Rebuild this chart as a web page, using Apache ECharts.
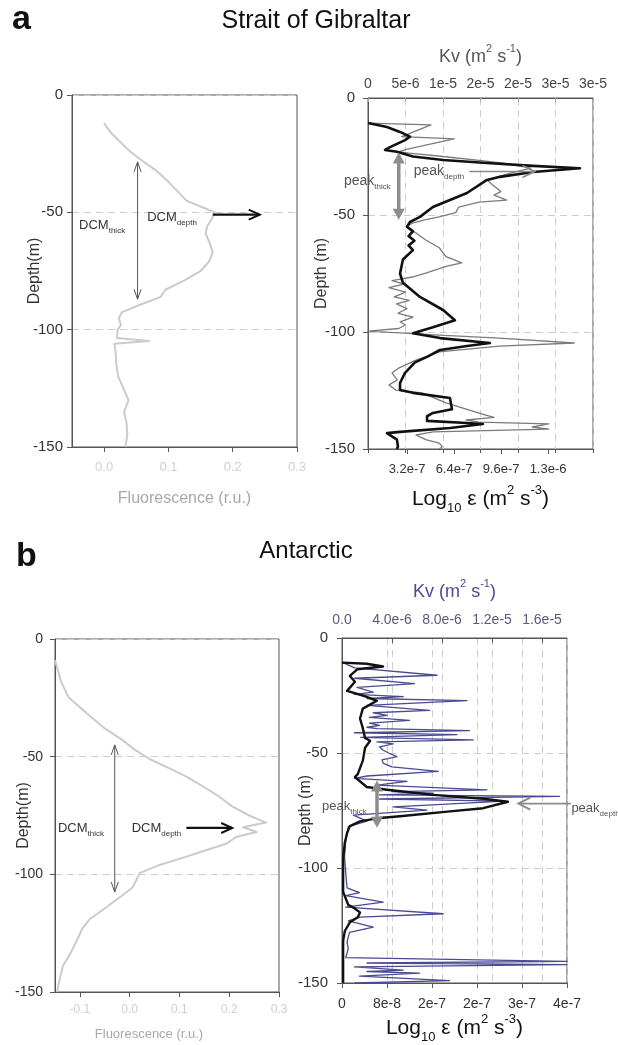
<!DOCTYPE html>
<html>
<head>
<meta charset="utf-8">
<script src="https://cdn.jsdelivr.net/npm/echarts@6/dist/echarts.min.js"></script>
<style>
  html, body { margin: 0; padding: 0; background: #fff; }
  #chart { width: 618px; height: 1045px; }
</style>
</head>
<body>
<div id="chart"></div>
<script>
// ---------------- profiles: [value, depth (m, positive down)] ----------------

// Strait of Gibraltar - chlorophyll fluorescence (r.u.)
const fluorGibraltar = [
  [0.000,12],[0.010,16],[0.025,20],[0.040,24],[0.059,28],[0.080,32],[0.100,37],[0.128,45],
  [0.150,47.5],[0.172,50],[0.168,52.5],[0.160,56],[0.158,59],[0.164,63],[0.169,67],[0.163,71],
  [0.150,75],[0.125,79],[0.095,83],[0.088,86],[0.055,89.5],[0.028,92.5],[0.023,95],[0.026,98],
  [0.021,100],[0.020,103.5],[0.070,104.8],[0.016,106],[0.018,110],[0.019,115],[0.022,120],
  [0.030,125],[0.038,130],[0.031,135],[0.035,140],[0.036,145],[0.033,150]
];

// Strait of Gibraltar - turbulent dissipation rate epsilon (m2 s-3)
const epsGibraltar = [
  [5.4e-8,10.7],[1.83e-7,12.4],[2.72e-7,14.5],[3.4e-7,16.5],[3.06e-7,18],[2.04e-7,21],[1.7e-7,22.2],
  [2.51e-7,23],[3.6e-7,25],[5.65e-7,26.5],[8.64e-7,27.8],[1.177e-6,29],[1.497e-6,30],[1.177e-6,31.6],
  [9.53e-7,33.7],[8.64e-7,35],[7.28e-7,40.6],[6.12e-7,43.6],[4.96e-7,46.6],[4.08e-7,50.8],[3.4e-7,53],
  [3.19e-7,55],[3.6e-7,57],[3.3e-7,59],[3.7e-7,61],[3.3e-7,63],[3.6e-7,65],[2.92e-7,69],[2.72e-7,75],
  [2.92e-7,79],[4.08e-7,85],[5.65e-7,90.6],[6.46e-7,95],[4.96e-7,98],[3.6e-7,100.5],[5.44e-7,102.6],
  [8.84e-7,104.7],[7.28e-7,106],[5.44e-7,107.7],[4.56e-7,110.6],[3.74e-7,113],[3.06e-7,117.5],
  [2.72e-7,121.8],[2.72e-7,124.8],[3.6e-7,126],[6.12e-7,128.2],[6.26e-7,133],[4.96e-7,134.6],
  [4.56e-7,136],[4.56e-7,138],[7.28e-7,138.9],[8.37e-7,139.3],[6.12e-7,141],[2.72e-7,142.7],
  [1.83e-7,143.2],[1.7e-7,143.5],[2.51e-7,146],[2.58e-7,149],[2.5e-7,150]
];

// Strait of Gibraltar - vertical diffusivity Kv (m2 s-1)
const kvGibraltar = [
  [0,10.7],[8.4e-6,11.5],[4.5e-6,16.5],[1.15e-5,17.5],[5.1e-6,22],[4.1e-6,23],[5.5e-6,23.6],[1.0e-5,25],
  [1.57e-5,27],[1.81e-5,27.8],[2.17e-5,30],[1.91e-5,32],[1.59e-5,35],[1.64e-5,36.5],[1.77e-5,40],
  [1.68e-5,41.5],[1.85e-5,43.6],[1.48e-5,44.5],[1.21e-5,46.6],[1.17e-5,49],[9.5e-6,50.8],[7.7e-6,52],
  [5.9e-6,53.5],[5.1e-6,55],[6.4e-6,57.7],[7.7e-6,60.7],[9.5e-6,64],[1.04e-5,67.8],[1.25e-5,70.5],
  [1.04e-5,72],[7.7e-6,74.8],[5.9e-6,76.5],[3.2e-6,78],[4.8e-6,79.5],[2.8e-6,81],[5.0e-6,83],[3.5e-6,85],
  [5.5e-6,86.5],[3.8e-6,88],[5.2e-6,90],[4.0e-6,92],[6.0e-6,93.6],[4.3e-6,95.7],[5.0e-6,97],[4.1e-6,98.5],
  [0,99.6],[9.5e-6,101.3],[1.75e-5,102.6],[2.75e-5,104.7],[1.75e-5,106],[9.5e-6,108.5],[6.4e-6,112],
  [4.1e-6,115.4],[3.2e-6,117.5],[3.9e-6,120.5],[2.8e-6,122.6],[3.7e-6,124.8],[7.2e-6,126],[1.04e-5,130.3],
  [1.31e-5,133],[1.57e-5,135.5],[1.68e-5,136.5],[1.31e-5,137.6],[1.48e-5,138.5],[2.41e-5,139.3],
  [2.19e-5,140.6],[2.41e-5,141.5],[8.7e-6,142.7],[6.4e-6,144],[7.7e-6,146],[9.5e-6,147.5],[9.9e-6,149],
  [9.5e-6,150]
];

// Antarctic - chlorophyll fluorescence (r.u.)
const fluorAntarctic = [
  [-0.150,9],[-0.138,18],[-0.122,25],[-0.100,29],[-0.084,32],[-0.050,38],[-0.014,43],[0.010,47],
  [0.040,51],[0.080,55],[0.114,58.5],[0.150,63],[0.180,67],[0.205,71],[0.240,75],[0.274,78],[0.228,80],
  [0.255,82],[0.215,84],[0.194,87],[0.150,90],[0.106,93],[0.060,96],[0.020,99.5],[0.012,103],
  [0.006,105.5],[-0.015,109],[-0.034,112],[-0.060,116],[-0.080,119],[-0.095,123],[-0.106,128],
  [-0.120,134],[-0.134,139],[-0.140,144],[-0.144,148],[-0.146,150]
];

// Antarctic - turbulent dissipation rate epsilon (m2 s-3)
const epsAntarctic = [
  [0,10.7],[4.4e-8,11.2],[7.3e-8,12.4],[2.7e-8,13.6],[1.4e-8,16.5],[2.3e-8,19],[9e-9,23],[2.7e-8,24.3],
  [4.4e-8,25.6],[6.2e-8,27.3],[3.7e-8,30.7],[3.2e-8,35],[3.7e-8,39.2],[4.1e-8,43.5],[5e-8,44.7],
  [4.1e-8,47.7],[3.7e-8,53.3],[2.8e-8,59.2],[2.3e-8,60.5],[4.4e-8,64.8],[8e-8,66],[1.62e-7,68.2],
  [2.51e-7,69.9],[2.95e-7,71.2],[2.51e-7,74],[1.92e-7,75.4],[1.03e-7,77.5],[6.2e-8,78.4],[3.2e-8,79.7],
  [1.4e-8,81.8],[9e-9,84.8],[5e-9,89],[2e-9,95.9],[2e-9,110.4],[1.1e-8,116],[2e-8,117.2],[3.2e-8,119.3],
  [2.8e-8,121.4],[1.4e-8,123.6],[5e-9,127.4],[2e-9,131.7],[2e-9,150]
];

// Antarctic - vertical diffusivity Kv (m2 s-1)
const kvAntarctic = [
  [0,10.5],[1.0e-6,13],[7.6e-6,16.2],[1.0e-6,17.5],[5.8e-6,19.8],[1.2e-6,21.5],[2.5e-6,23.5],[1.0e-6,24.5],
  [4.9e-6,25.5],[2.0e-6,26.3],[1.0e-5,27.2],[2.0e-6,29.3],[7.0e-6,31.5],[2.5e-6,32.5],[3.6e-6,33.6],
  [2.2e-6,34.5],[5.4e-6,35.8],[2.2e-6,37],[3.0e-6,38],[2.0e-6,38.8],[2.8e-6,39.4],[1.02e-5,40.3],
  [1.0e-6,41.2],[9.2e-6,42],[1.5e-6,43.2],[1.05e-5,44.3],[2.8e-6,45.2],[4.1e-6,46],[3.0e-6,47.3],
  [3.3e-6,48.8],[3.8e-6,50.2],[4.4e-6,51.6],[3.2e-6,53],[3.3e-6,54.5],[4.0e-6,56],[7.7e-6,58],[2.0e-6,60],
  [1.0e-6,61],[5.2e-6,62.3],[2.8e-6,64],[1.16e-5,66],[4.0e-6,66.8],[7.3e-6,67.5],[3.0e-6,68.2],
  [1.74e-5,68.9],[3.0e-6,70],[1.3e-5,70.9],[4.1e-6,73.4],[6.8e-6,74.8],[9e-7,77],[2.0e-6,79.6],[5e-7,82],
  [3e-7,88],[2e-7,95],[3e-7,102],[4e-7,108.6],[1.4e-6,110.7],[3e-7,112],[3.3e-6,114.8],[3e-7,117],
  [8.1e-6,119.9],[1.44e-6,121.4],[5e-7,123],[2.5e-6,125.7],[6e-7,128],[4e-7,132.2],[5e-7,135],[3e-7,139],
  [1.8e-5,140.6],[2e-6,141.3],[1.8e-5,142],[1.0e-6,143],[4.9e-6,144.4],[2e-6,145],[6.2e-6,145.7],
  [1.4e-6,147],[8.6e-6,149],[1e-6,150]
];

// ---------------- tick labels ----------------
const fluorTicksGibraltar = [0, 0.1, 0.2, 0.3];
const fluorTicksAntarctic = [-0.1, 0, 0.1, 0.2, 0.3];
const kvLabelsGibraltar = ['0', '5e-6', '1e-5', '2e-5', '2e-5', '3e-5', '3e-5'];
const epsTicksGibraltar = [3.2e-7, 6.4e-7, 9.6e-7, 1.28e-6];
const epsLabelsGibraltar = ['3.2e-7', '6.4e-7', '9.6e-7', '1.3e-6'];
const epsLabelsAntarctic = ['0', '8e-8', '2e-7', '2e-7', '3e-7', '4e-7'];

// ---------------- annotations (data units; depth positive down) ----------------
// DCM: [x, depthTop, depthBottom] for the thickness arrow, [x1, x2, depth] for the depth arrow
const dcmGibraltar = { thick: [0.052, 28.5, 87], depth: [0.169, 0.242, 51], thickLabel: [-0.039, 55.4], depthLabel: [0.067, 52.3] };
const dcmAntarctic = { thick: [-0.03, 45, 107.5], depth: [0.114, 0.206, 80.3], thickLabel: [-0.144, 80.3], depthLabel: [0.004, 80.3] };
// Kv peak: coordinates on the Kv axis
const peakGibraltar = { thick: [4.1e-6, 23.3, 52], depth: [1.35e-5, 2.22e-5, 31.4], thickLabel: [-3.2e-6, 35.5], depthLabel: [6.1e-6, 31.2] };
const peakAntarctic = { thick: [2.8e-6, 62, 82.5], depth: [1.83e-5, 1.41e-5, 72], thickLabel: [-1.6e-6, 73.3], depthLabel: [1.835e-5, 74.2] };

// ---------------- styling helpers ----------------
const FONT = '"Liberation Sans", Arial, Helvetica, sans-serif';
const AX = '#555';
const GRIDLINE = { color: '#cdcdcd', type: [7, 5], width: 1 };
const toXY = arr => arr.map(p => [p[0], -p[1]]);

const grids = [
  { left: 72, top: 95, width: 225, height: 352 },   // a: fluorescence
  { left: 368, top: 98, width: 225, height: 351 },  // a: Kv / epsilon
  { left: 55, top: 639, width: 224, height: 353 },  // b: fluorescence
  { left: 342, top: 638, width: 225, height: 352 }  // b: Kv / epsilon
].map(g => Object.assign(g, { show: true, borderColor: AX, borderWidth: 1, backgroundColor: 'transparent' }));

function depthAxis(gridIndex, name, nameGap, labelMargin, fontSize) {
  return {
    type: 'value', gridIndex, min: -150, max: 0, interval: 50,
    name, nameLocation: 'middle', nameGap, nameRotate: 90, nameMoveOverlap: false,
    nameTextStyle: { fontFamily: FONT, fontSize: 16, color: '#333' },
    axisLine: { show: true, onZero: false, lineStyle: { color: AX } },
    axisTick: { show: true, inside: false, length: 5, lineStyle: { color: AX } },
    axisLabel: { fontFamily: FONT, fontSize, color: '#333', margin: labelMargin },
    splitLine: { show: true, lineStyle: GRIDLINE }
  };
}

const richSup = (size, color) => ({
  a: { fontFamily: FONT, fontSize: size, color, lineHeight: size + 10 },
  sup: { fontFamily: FONT, fontSize: Math.round(size * 0.6), color, lineHeight: size, verticalAlign: 'top' },
  sub: { fontFamily: FONT, fontSize: Math.round(size * 0.6), color, lineHeight: Math.round(size * 0.55), verticalAlign: 'bottom' }
});

const KV_BLUE = '#4a4a92';

const xAxes = [
  // 0: fluorescence, Strait of Gibraltar
  {
    type: 'value', gridIndex: 0, position: 'bottom', min: -0.05, max: 0.3,
    name: 'Fluorescence (r.u.)', nameLocation: 'middle', nameGap: 44, nameMoveOverlap: false,
    nameTextStyle: { fontFamily: FONT, fontSize: 16, color: '#a8a8a8' },
    axisLine: { show: true, onZero: false, lineStyle: { color: AX } },
    axisTick: { show: true, length: 5, customValues: fluorTicksGibraltar, lineStyle: { color: AX } },
    axisLabel: { customValues: fluorTicksGibraltar, formatter: v => v.toFixed(1), fontFamily: FONT, fontSize: 13, color: '#cfcfcf', margin: 14 },
    splitLine: { show: false }
  },
  // 1: Kv, Strait of Gibraltar (top)
  {
    type: 'value', gridIndex: 1, position: 'top', min: 0, max: 3e-5, interval: 5e-6,
    name: '{a|Kv (m}{sup|2}{a| s}{sup|-1}{a|)}', nameLocation: 'middle', nameGap: 27, nameMoveOverlap: false,
    nameTextStyle: { rich: richSup(18, '#555') },
    axisLine: { show: true, onZero: false, lineStyle: { color: AX } },
    axisTick: { show: true, inside: true, length: 4, lineStyle: { color: '#aaa' } },
    axisLabel: { formatter: v => kvLabelsGibraltar[Math.round(v / 5e-6)] || '', fontFamily: FONT, fontSize: 14, color: '#444', margin: 7 },
    splitLine: { show: true, lineStyle: GRIDLINE }
  },
  // 2: epsilon, Strait of Gibraltar (bottom)
  {
    type: 'value', gridIndex: 1, position: 'bottom', min: 5.4e-8, max: 1.586e-6,
    name: '{a|Log}{sub|10}{a| \u03b5 (m}{sup|2}{a| s}{sup|-3}{a|)}', nameLocation: 'middle', nameGap: 35, nameMoveOverlap: false,
    nameTextStyle: { rich: richSup(21, '#111') },
    axisLine: { show: true, onZero: false, lineStyle: { color: AX } },
    axisTick: { show: true, length: 5, customValues: epsTicksGibraltar, lineStyle: { color: AX } },
    axisLabel: { customValues: epsTicksGibraltar, formatter: v => epsLabelsGibraltar[Math.round(v / 3.2e-7) - 1] || '', fontFamily: FONT, fontSize: 13, color: '#333', margin: 14 },
    splitLine: { show: false }
  },
  // 3: Kv tick marks repeated along the bottom edge
  {
    type: 'value', gridIndex: 1, position: 'bottom', min: 0, max: 3e-5, interval: 5e-6,
    axisLine: { show: false, onZero: false },
    axisTick: { show: true, length: 4, lineStyle: { color: AX } },
    axisLabel: { show: false },
    splitLine: { show: false }
  },
  // 4: fluorescence, Antarctic
  {
    type: 'value', gridIndex: 2, position: 'bottom', min: -0.15, max: 0.3,
    name: 'Fluorescence (r.u.)', nameLocation: 'middle', nameGap: 36, nameMoveOverlap: false,
    nameTextStyle: { fontFamily: FONT, fontSize: 13, color: '#a8a8a8', padding: [0, 36, 0, 0] },
    axisLine: { show: true, onZero: false, lineStyle: { color: AX } },
    axisTick: { show: true, length: 5, customValues: fluorTicksAntarctic, lineStyle: { color: AX } },
    axisLabel: { customValues: fluorTicksAntarctic, formatter: v => v.toFixed(1), fontFamily: FONT, fontSize: 12, color: '#cfcfcf', margin: 12 },
    splitLine: { show: false }
  },
  // 5: Kv, Antarctic (top)
  {
    type: 'value', gridIndex: 3, position: 'top', min: 0, max: 1.8e-5, interval: 4e-6,
    name: '{a|Kv (m}{sup|2}{a| s}{sup|-1}{a|)}', nameLocation: 'middle', nameGap: 32, nameMoveOverlap: false,
    nameTextStyle: { rich: richSup(18, KV_BLUE) },
    axisLine: { show: true, onZero: false, lineStyle: { color: AX } },
    axisTick: { show: true, inside: true, length: 5, lineStyle: { color: AX } },
    axisLabel: { formatter: v => (v === 0 ? '0.0' : v.toExponential(1)), showMaxLabel: false, fontFamily: FONT, fontSize: 14, color: '#5a5a7a', margin: 11 },
    splitLine: { show: true, lineStyle: GRIDLINE }
  },
  // 6: epsilon, Antarctic (bottom)
  {
    type: 'value', gridIndex: 3, position: 'bottom', min: 0, max: 4e-7, interval: 8e-8,
    name: '{a|Log}{sub|10}{a| \u03b5 (m}{sup|2}{a| s}{sup|-3}{a|)}', nameLocation: 'middle', nameGap: 30, nameMoveOverlap: false,
    nameTextStyle: { rich: richSup(21, '#111') },
    axisLine: { show: true, onZero: false, lineStyle: { color: AX } },
    axisTick: { show: true, length: 5, lineStyle: { color: AX } },
    axisLabel: { formatter: v => epsLabelsAntarctic[Math.round(v / 8e-8)] || '', fontFamily: FONT, fontSize: 14, color: '#333', margin: 14 },
    splitLine: { show: true, lineStyle: GRIDLINE }
  }
];

const yAxes = [
  depthAxis(0, 'Depth(m)', 29, 9, 15),
  depthAxis(1, 'Depth (m)', 38, 13, 15),
  depthAxis(2, 'Depth(m)', 23, 12, 14),
  depthAxis(3, 'Depth (m)', 28, 14, 15)
];

function profile(data, xi, yi, color, width) {
  return {
    type: 'line', xAxisIndex: xi, yAxisIndex: yi, data: toXY(data),
    showSymbol: false, symbol: 'none', clip: true, animation: false,
    lineStyle: { color, width, join: 'round' }, z: 3
  };
}

const chart = echarts.init(document.getElementById('chart'), null, { renderer: 'canvas' });
chart.setOption({
  backgroundColor: '#fff',
  animation: false,
  grid: grids,
  xAxis: xAxes,
  yAxis: yAxes,
  series: [
    profile(fluorGibraltar, 0, 0, '#cbcbcb', 2),
    profile(kvGibraltar, 1, 1, '#7b7b7b', 1.3),
    profile(epsGibraltar, 2, 1, '#111', 2.6),
    profile(fluorAntarctic, 4, 2, '#cbcbcb', 2),
    profile(kvAntarctic, 5, 3, KV_BLUE, 1.3),
    profile(epsAntarctic, 6, 3, '#111', 2.4)
  ]
});

// ---------------- annotation layer ----------------
const px = (xi, yi, x, d) => chart.convertToPixel({ xAxisIndex: xi, yAxisIndex: yi }, [x, -d]);

function head(tip, from, len, w, filled, color, lw) {
  const dx = tip[0] - from[0], dy = tip[1] - from[1];
  const L = Math.hypot(dx, dy), ux = dx / L, uy = dy / L;
  const bx = tip[0] - ux * len, by = tip[1] - uy * len;
  const pts = [[bx - uy * w, by + ux * w], tip, [bx + uy * w, by - ux * w]];
  return filled
    ? { type: 'polygon', shape: { points: pts }, style: { fill: color }, z: 10 }
    : { type: 'polyline', shape: { points: pts }, style: { stroke: color, lineWidth: lw, fill: null }, z: 10 };
}

function arrow(p1, p2, o) {
  const els = [];
  const shorten = (a, b, s) => {
    const dx = b[0] - a[0], dy = b[1] - a[1], L = Math.hypot(dx, dy);
    return [b[0] - dx / L * s, b[1] - dy / L * s];
  };
  let a = p1, b = p2;
  if (o.filled) {
    if (o.both) a = shorten(p2, p1, o.len * 0.7);
    b = shorten(p1, p2, o.len * 0.7);
  }
  els.push({ type: 'line', shape: { x1: a[0], y1: a[1], x2: b[0], y2: b[1] }, style: { stroke: o.color, lineWidth: o.lw }, z: 10 });
  els.push(head(p2, p1, o.len, o.w, o.filled, o.color, o.headLw || o.lw));
  if (o.both) els.push(head(p1, p2, o.len, o.w, o.filled, o.color, o.headLw || o.lw));
  return els;
}

function subLabel(p, main, sub, size, color) {
  return {
    type: 'text', x: p[0], y: p[1], z: 11,
    style: {
      text: '{a|' + main + '}{s|' + sub + '}',
      align: 'left', verticalAlign: 'middle',
      rich: {
        a: { fontFamily: FONT, fontSize: size, fill: color, color, lineHeight: size + 6 },
        s: { fontFamily: FONT, fontSize: Math.round(size * 0.6), fill: color, color, lineHeight: Math.round(size * 0.55), verticalAlign: 'bottom' }
      }
    }
  };
}

function dcmGraphics(d, xi, yi) {
  const t1 = px(xi, yi, d.thick[0], d.thick[1]), t2 = px(xi, yi, d.thick[0], d.thick[2]);
  const a1 = px(xi, yi, d.depth[0], d.depth[2]), a2 = px(xi, yi, d.depth[1], d.depth[2]);
  return [].concat(
    arrow(t1, t2, { color: '#555', lw: 1, len: 10, w: 3.5, both: true, filled: false }),
    arrow(a1, a2, { color: '#111', lw: 2.2, len: 11, w: 5, filled: false, headLw: 2 }),
    [subLabel(px(xi, yi, d.thickLabel[0], d.thickLabel[1]), 'DCM', 'thick', 13, '#333'),
     subLabel(px(xi, yi, d.depthLabel[0], d.depthLabel[1]), 'DCM', 'depth', 13, '#333')]
  );
}

function peakGraphics(p, xi, yi, size, headFilledDepth) {
  const t1 = px(xi, yi, p.thick[0], p.thick[1]), t2 = px(xi, yi, p.thick[0], p.thick[2]);
  const a1 = px(xi, yi, p.depth[0], p.depth[2]), a2 = px(xi, yi, p.depth[1], p.depth[2]);
  return [].concat(
    arrow(t1, t2, { color: '#8d8d8d', lw: 3.5, len: 11, w: 6, both: true, filled: true }),
    arrow(a1, a2, { color: '#8a8a8a', lw: 1.6, len: 12, w: 6, filled: headFilledDepth, headLw: 1.8 }),
    [subLabel(px(xi, yi, p.thickLabel[0], p.thickLabel[1]), 'peak', 'thick', size, '#555'),
     subLabel(px(xi, yi, p.depthLabel[0], p.depthLabel[1]), 'peak', 'depth', size, '#555')]
  );
}

function titleText(x, y, text, size, weight) {
  return {
    type: 'text', x, y, z: 11,
    style: { text, fontFamily: FONT, fontSize: size, fontWeight: weight, fill: '#111', align: weight === 'bold' ? 'left' : 'center', verticalAlign: 'middle' }
  };
}

const graphics = [].concat(
  [titleText(12, 20, 'a', 34, 'bold'), titleText(316, 21, 'Strait of Gibraltar', 25, 'normal'),
   titleText(16, 557, 'b', 34, 'bold'), titleText(306, 551, 'Antarctic', 24, 'normal')],
  dcmGraphics(dcmGibraltar, 0, 0),
  dcmGraphics(dcmAntarctic, 4, 2),
  peakGraphics(peakGibraltar, 1, 1, 14, false),
  peakGraphics(peakAntarctic, 5, 3, 13, false)
);

chart.setOption({ graphic: graphics });
</script>
</body>
</html>
